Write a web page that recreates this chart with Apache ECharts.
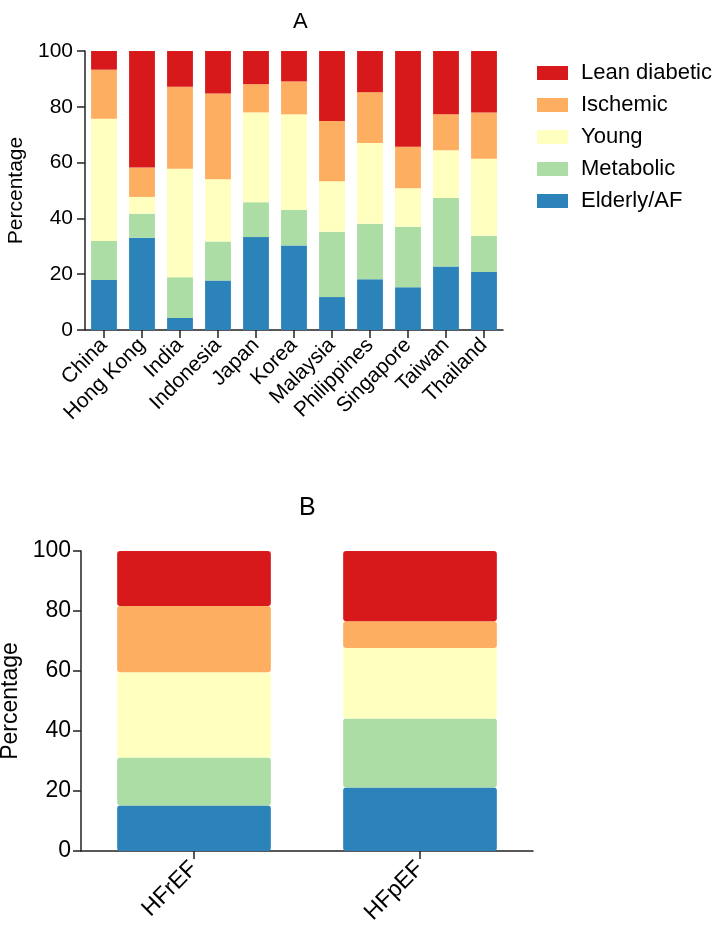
<!DOCTYPE html>
<html>
<head>
<meta charset="utf-8">
<script src="https://cdn.jsdelivr.net/npm/echarts@6/dist/echarts.min.js"></script>
<style>
html,body{margin:0;padding:0;background:#fff;}
#c{width:716px;height:927px;}
</style>
</head>
<body>
<div id="c"></div>
<script>
// Panel A
const countries = ['China','Hong Kong','India','Indonesia','Japan','Korea','Malaysia','Philippines','Singapore','Taiwan','Thailand'];
const elderlyA   = [17.9, 33.1, 4.3, 17.7, 33.3, 30.3, 11.8, 18.2, 15.3, 22.8, 20.8];
const metabolicA = [14.0, 8.6, 14.6, 14.0, 12.5, 12.7, 23.4, 19.9, 21.7, 24.5, 13.0];
const youngA     = [43.8, 6.0, 38.9, 22.3, 32.2, 34.3, 18.1, 28.9, 13.8, 17.1, 27.6];
const ischemicA  = [17.6, 10.5, 29.4, 30.8, 10.1, 11.8, 21.6, 18.2, 14.9, 12.9, 16.6];
const leanA      = [6.7, 41.8, 12.8, 15.2, 11.9, 10.9, 25.1, 14.8, 34.3, 22.9, 22.0];
// Panel B
const hfTypes    = ['HFrEF','HFpEF'];
const elderlyB   = [15.2, 21.2];
const metabolicB = [16.0, 23.0];
const youngB     = [28.4, 23.5];
const ischemicB  = [22.1, 8.9];
const leanB      = [18.3, 23.4];

const groupNames = ['Elderly/AF','Metabolic','Young','Ischemic','Lean diabetic'];
const groupColors = ['#2b83ba','#abdda4','#ffffbf','#fdae61','#d7191c'];
const legendOrder = ['Lean diabetic','Ischemic','Young','Metabolic','Elderly/AF'];

const FONT = 'Liberation Sans, Arial, sans-serif';
const dataA = [elderlyA, metabolicA, youngA, ischemicA, leanA];
const dataB = [elderlyB, metabolicB, youngB, ischemicB, leanB];

const axisLine = {show:true, lineStyle:{color:'#222', width:1.5}};
const axisTick = {show:true, length:8, lineStyle:{color:'#222', width:1.5}};

function yAxis(gridIndex, fs, nameGap, margin){
  return {
    type:'value', gridIndex, min:0, max:100, interval:20,
    name:'Percentage', nameLocation:'middle', nameGap,
    nameTextStyle:{fontFamily:FONT, fontSize:fs, color:'#000'},
    axisLine, axisTick,
    axisLabel:{fontFamily:FONT, fontSize:fs, color:'#000', margin},
    splitLine:{show:false}
  };
}

const series = [];
groupNames.forEach((n,i)=>{
  series.push({name:n, type:'bar', stack:'A', xAxisIndex:0, yAxisIndex:0,
    data:dataA[i], barWidth:'68%', itemStyle:{color:groupColors[i]}, animation:false});
});
groupNames.forEach((n,i)=>{
  series.push({name:n, type:'bar', stack:'B', xAxisIndex:1, yAxisIndex:1,
    data:dataB[i], barWidth:'68%', itemStyle:{color:groupColors[i], borderRadius:3}, animation:false});
});

const chart = echarts.init(document.getElementById('c'), null, {renderer:'canvas'});
chart.setOption({
  animation:false,
  backgroundColor:'#fff',
  textStyle:{fontFamily:FONT},
  title:[
    {text:'A', left:288, top:6, textStyle:{fontFamily:FONT, fontSize:22, fontWeight:'normal', color:'#000'}},
    {text:'B', left:294, top:491, textStyle:{fontFamily:FONT, fontSize:25, fontWeight:'normal', color:'#000'}}
  ],
  legend:{
    data:legendOrder, orient:'vertical', left:532, top:57,
    itemWidth:31, itemHeight:14, itemGap:10,
    icon:'rect',
    textStyle:{fontFamily:FONT, fontSize:22, color:'#000', padding:[0,0,0,8]}
  },
  grid:[
    {left:85, top:51, width:418, height:279, outerBoundsMode:'none', containLabel:false},
    {left:81, top:551, width:452, height:300, outerBoundsMode:'none', containLabel:false}
  ],
  xAxis:[
    {type:'category', gridIndex:0, data:countries, axisLine, axisTick:{...axisTick, alignWithLabel:true},
     axisLabel:{fontFamily:FONT, fontSize:21, color:'#000', rotate:45, margin:12, interval:0}},
    {type:'category', gridIndex:1, data:hfTypes, axisLine, axisTick:{...axisTick, alignWithLabel:true},
     axisLabel:{fontFamily:FONT, fontSize:23, color:'#000', rotate:45, margin:14, interval:0}}
  ],
  yAxis:[ yAxis(0, 21, 47, 12), yAxis(1, 23, 58, 10) ],
  series
});
</script>
</body>
</html>
